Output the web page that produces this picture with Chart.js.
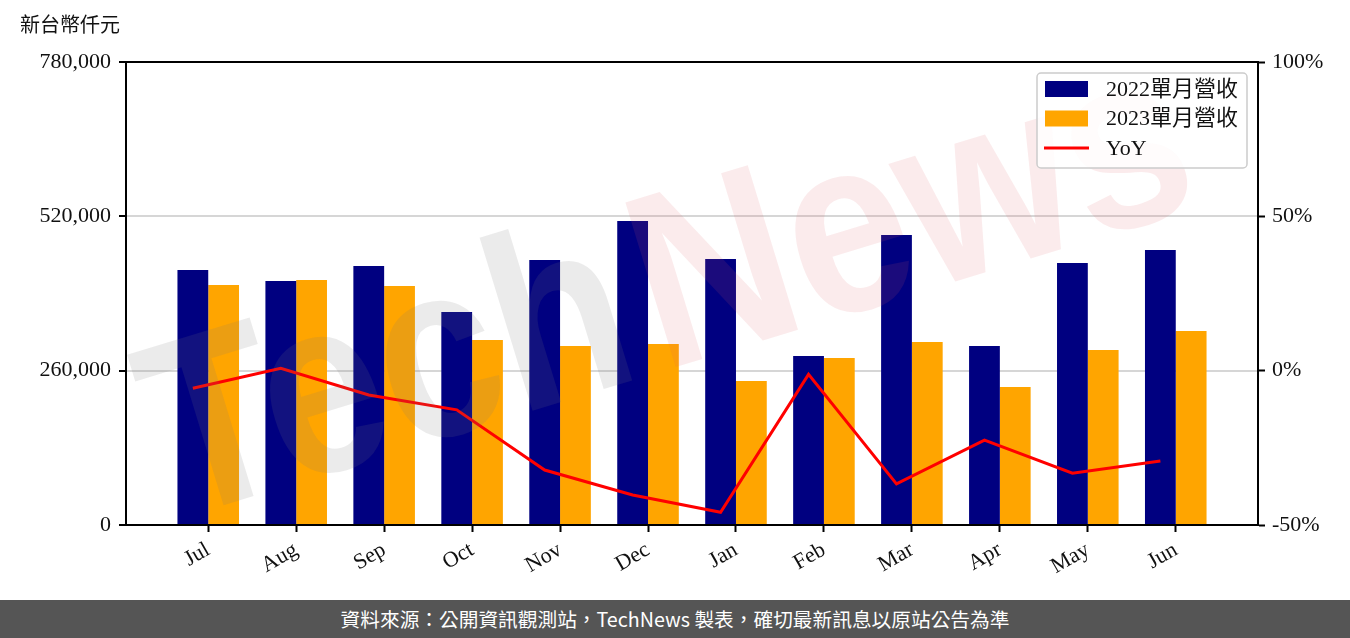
<!DOCTYPE html>
<html>
<head>
<meta charset="utf-8">
<script src="https://cdn.jsdelivr.net/npm/chart.js@4.4.0/dist/chart.umd.min.js"></script>
<style>
  html, body { margin: 0; padding: 0; background: #fff; }
  #wrap { width: 1350px; height: 638px; position: relative; overflow: hidden; }
  #footer {
    position: absolute; left: 0; top: 600px; width: 1350px; height: 38px;
    background: #555555; color: #fff; text-align: center; line-height: 38px;
    font-family: "Noto Sans CJK TC", sans-serif; font-size: 19.7px;
  }
</style>
</head>
<body>
<div id="wrap">
  <canvas id="chart" width="1350" height="600"></canvas>
  <div id="footer">資料來源：公開資訊觀測站，TechNews 製表，確切最新訊息以原站公告為準</div>
</div>
<script>
// 月份
const months = ["Jul", "Aug", "Sep", "Oct", "Nov", "Dec", "Jan", "Feb", "Mar", "Apr", "May", "Jun"];

// 單月營收（新台幣仟元）
const rev2022 = [429600, 411000, 436300, 358800, 446400, 512100, 448100, 284700, 488600, 301600, 441400, 463300];
const rev2023 = [404300, 412700, 402600, 311700, 301600, 304900, 242600, 281300, 308300, 232500, 294800, 326800];

// 年增率 (%)
const yoy = [-5.7, 0.8, -7.9, -12.7, -32.2, -40.3, -45.9, -1.2, -36.7, -22.5, -33.2, -29.3];

const leftTicks = [0, 260000, 520000, 780000];
const rightTicks = [-50, 0, 50, 100];

const seriesLabels = ["2022單月營收", "2023單月營收", "YoY"];

const tickFont = { family: "'Liberation Serif', serif", size: 22 };
const textColor = "#111";

// 標題（單位）
const unitTitle = {
  id: "unitTitle",
  afterDraw(chart) {
    const ctx = chart.ctx;
    ctx.save();
    ctx.font = "20px 'Liberation Serif', 'Noto Sans CJK TC', serif";
    ctx.fillStyle = textColor;
    ctx.textBaseline = "middle";
    ctx.fillText("新台幣仟元", 20, 27);
    ctx.restore();
  }
};

// 浮水印
const watermark = {
  id: "watermark",
  afterDatasetsDraw(chart) {
    const ctx = chart.ctx;
    const a = chart.chartArea;
    ctx.save();
    ctx.beginPath();
    ctx.rect(a.left, a.top, a.right - a.left, a.bottom - a.top);
    ctx.clip();
    ctx.translate(175, 520);
    ctx.rotate(-17 * Math.PI / 180);
    ctx.scale(0.87, 1);
    ctx.font = "bold 250px 'Liberation Sans', sans-serif";
    ctx.textBaseline = "alphabetic";
    ctx.fillStyle = "rgba(120,120,120,0.15)";
    ctx.fillText("Tech", 0, 0);
    const w = ctx.measureText("Tech").width;
    ctx.fillStyle = "rgba(225,90,100,0.12)";
    ctx.fillText("News", w + 20, 0);
    ctx.restore();
  }
};

// 外框上緣 + 圖例
const boxLegend = {
  id: "boxLegend",
  afterDraw(chart) {
    const ctx = chart.ctx;
    const a = chart.chartArea;
    ctx.save();
    ctx.strokeStyle = "#000";
    ctx.lineWidth = 2;
    ctx.beginPath();
    ctx.moveTo(a.left - 1, a.top);
    ctx.lineTo(a.right + 1, a.top);
    ctx.stroke();

    const bx = 1037, by = 73, bw = 210, bh = 95;
    ctx.fillStyle = "rgba(255,255,255,0.85)";
    ctx.strokeStyle = "#cccccc";
    ctx.lineWidth = 1.5;
    ctx.beginPath();
    ctx.roundRect(bx, by, bw, bh, 4);
    ctx.fill();
    ctx.stroke();

    ctx.font = "22px 'Liberation Serif', 'Noto Sans CJK TC', serif";
    ctx.textBaseline = "middle";
    chart.data.datasets.forEach((ds, i) => {
      const cy = 89 + i * 29.5;
      if (ds.type === "line") {
        ctx.strokeStyle = ds.borderColor;
        ctx.lineWidth = 3;
        ctx.beginPath();
        ctx.moveTo(1044, cy);
        ctx.lineTo(1089, cy);
        ctx.stroke();
      } else {
        ctx.fillStyle = ds.backgroundColor;
        ctx.fillRect(1045, cy - 8, 43, 16);
      }
      ctx.fillStyle = textColor;
      ctx.fillText(ds.label, 1106, cy + 1);
    });
    ctx.restore();
  }
};

const ctx = document.getElementById("chart").getContext("2d");

new Chart(ctx, {
  data: {
    datasets: [
      {
        type: "bar",
        label: seriesLabels[0],
        data: rev2022.map((v, i) => ({ x: i, y: v })),
        backgroundColor: "#000080",
        yAxisID: "y",
        categoryPercentage: 0.7,
        barPercentage: 1.0,
        order: 1
      },
      {
        type: "bar",
        label: seriesLabels[1],
        data: rev2023.map((v, i) => ({ x: i, y: v })),
        backgroundColor: "#FFA500",
        yAxisID: "y",
        categoryPercentage: 0.7,
        barPercentage: 1.0,
        order: 1
      },
      {
        type: "line",
        label: seriesLabels[2],
        data: yoy.map((v, i) => ({ x: i - 0.175, y: v })),
        borderColor: "#FF0000",
        borderWidth: 3,
        pointRadius: 0,
        tension: 0,
        yAxisID: "y1",
        order: 0
      }
    ]
  },
  options: {
    responsive: false,
    animation: false,
    devicePixelRatio: 1,
    layout: { padding: { top: 62, left: 0, right: 0, bottom: 0 } },
    plugins: {
      legend: { display: false },
      tooltip: { enabled: false }
    },
    scales: {
      x: {
        type: "linear",
        offset: false,
        min: -0.935,
        max: 11.935,
        afterBuildTicks: (axis) => {
          axis.ticks = months.map((m, i) => ({ value: i }));
        },
        afterFit: (axis) => { axis.height = 75; },
        ticks: {
          autoSkip: false,
          minRotation: 30,
          maxRotation: 30,
          padding: 5,
          color: textColor,
          font: tickFont,
          callback: (v) => months[v]
        },
        grid: {
          offset: false,
          drawOnChartArea: false,
          tickLength: 7,
          tickWidth: 2,
          tickColor: "#000"
        },
        border: { color: "#000", width: 2 }
      },
      y: {
        position: "left",
        min: 0,
        max: 780000,
        afterBuildTicks: (axis) => {
          axis.ticks = leftTicks.map(v => ({ value: v }));
        },
        afterFit: (axis) => { axis.width = 126; },
        ticks: {
          padding: 8,
          color: textColor,
          font: tickFont,
          callback: (v) => v.toLocaleString("en-US")
        },
        grid: {
          color: (c) => (c.tick && (c.tick.value === 260000 || c.tick.value === 520000)) ? "#d6d6d6" : "rgba(0,0,0,0)",
          lineWidth: 2,
          tickLength: 7,
          tickWidth: 2,
          tickColor: "#000"
        },
        border: { color: "#000", width: 2 }
      },
      y1: {
        position: "right",
        min: -50,
        max: 100,
        afterBuildTicks: (axis) => {
          axis.ticks = rightTicks.map(v => ({ value: v }));
        },
        afterFit: (axis) => { axis.width = 92; },
        ticks: {
          padding: 7,
          color: textColor,
          font: tickFont,
          callback: (v) => v + "%"
        },
        grid: {
          drawOnChartArea: false,
          tickLength: 7,
          tickWidth: 2,
          tickColor: "#000"
        },
        border: { color: "#000", width: 2 }
      }
    }
  },
  plugins: [watermark, unitTitle, boxLegend]
});
</script>
</body>
</html>
